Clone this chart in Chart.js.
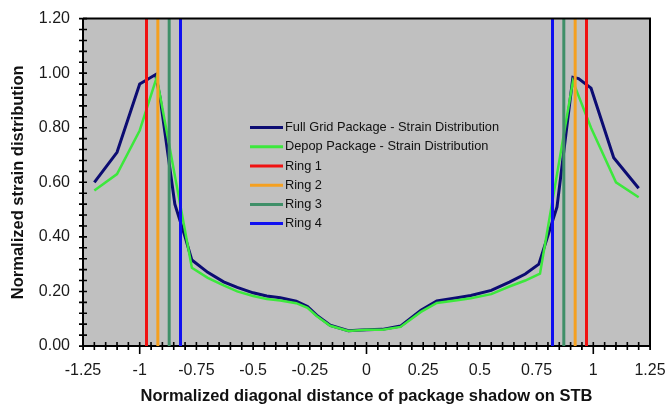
<!DOCTYPE html>
<html>
<head>
<meta charset="utf-8">
<script src="https://cdn.jsdelivr.net/npm/chart.js@4"></script>
<style>
  html, body { margin: 0; padding: 0; background: #fff; }
  #wrap { width: 667px; height: 406px; }
</style>
</head>
<body>
<div id="wrap"><canvas id="strainChart" width="667" height="406"></canvas></div>
<script>
// values
const fullGridX = [-1.2, -1.1, -1.0, -0.97, -0.93, -0.91, -0.845, -0.80, -0.77, -0.70, -0.63, -0.57, -0.50, -0.44, -0.38, -0.31, -0.26, -0.22, -0.16, -0.08, 0.0, 0.07, 0.15, 0.24, 0.31, 0.40, 0.46, 0.55, 0.63, 0.70, 0.76, 0.84, 0.91, 0.935, 0.99, 1.09, 1.2];
const fullGridY = [0.60, 0.71, 0.96, 0.975, 0.995, 0.91, 0.52, 0.40, 0.315, 0.27, 0.235, 0.215, 0.195, 0.183, 0.177, 0.164, 0.145, 0.113, 0.076, 0.056, 0.06, 0.061, 0.073, 0.131, 0.165, 0.177, 0.185, 0.204, 0.234, 0.264, 0.30, 0.51, 0.985, 0.98, 0.945, 0.69, 0.578];

const depopX = [-1.2, -1.1, -1.0, -0.925, -0.77, -0.70, -0.63, -0.57, -0.50, -0.44, -0.38, -0.31, -0.26, -0.22, -0.16, -0.08, 0.0, 0.07, 0.15, 0.24, 0.31, 0.40, 0.46, 0.55, 0.63, 0.70, 0.765, 0.91, 0.99, 1.10, 1.2];
const depopY = [0.57, 0.63, 0.79, 0.985, 0.287, 0.25, 0.222, 0.20, 0.183, 0.172, 0.167, 0.157, 0.14, 0.11, 0.074, 0.055, 0.06, 0.06, 0.07, 0.125, 0.158, 0.168, 0.175, 0.19, 0.218, 0.24, 0.265, 0.97, 0.80, 0.60, 0.545];

const ringLabels = ["Ring 1", "Ring 2", "Ring 3", "Ring 4"];
const ringPositions = [0.97, 0.92, 0.87, 0.82];
const ringColors = ["#f01212", "#f5a020", "#3f8f68", "#1010f0"];

const yMax = 1.2;

function toPoints(xs, ys) {
    return xs.map((x, i) => ({ x: x, y: ys[i] }));
}

function ringPoints(p) {
    return [{ x: -p, y: 0 }, { x: -p, y: yMax }, { x: 0, y: null }, { x: p, y: 0 }, { x: p, y: yMax }];
}

const datasets = [
    { label: "Full Grid Package - Strain Distribution", data: toPoints(fullGridX, fullGridY), borderColor: "#0c0c72", borderWidth: 3, order: 6 },
    { label: "Depop Package - Strain Distribution", data: toPoints(depopX, depopY), borderColor: "#3ce83c", borderWidth: 2.5, order: 5 }
];
ringLabels.forEach((name, i) => {
    datasets.push({ label: name, data: ringPoints(ringPositions[i]), borderColor: ringColors[i], borderWidth: 3, order: 4 - i });
});
datasets.forEach(ds => {
    ds.showLine = true;
    ds.pointRadius = 0;
    ds.pointHoverRadius = 0;
    ds.fill = false;
    ds.tension = 0;
    ds.spanGaps = false;
});

function near(v, step) {
    return Math.abs(v / step - Math.round(v / step)) < 1e-6;
}

// grey plot background
const plotBackground = {
    id: "plotBackground",
    beforeDraw(chart) {
        const { ctx, chartArea: a } = chart;
        ctx.save();
        ctx.fillStyle = "#c0c0c0";
        ctx.fillRect(a.left, a.top, a.right - a.left, a.bottom - a.top);
        ctx.restore();
    }
};

// frame on top/right plus the tick marks crossing the axes
const plotFrame = {
    id: "plotFrame",
    afterDraw(chart) {
        const { ctx, chartArea: a, scales } = chart;
        ctx.save();
        ctx.strokeStyle = "#000";
        ctx.lineWidth = 2;
        ctx.beginPath();
        ctx.moveTo(a.left, a.top);
        ctx.lineTo(a.right, a.top);
        ctx.lineTo(a.right, a.bottom);
        ctx.stroke();

        ctx.lineWidth = 1.6;
        ctx.beginPath();
        scales.y.ticks.forEach(t => {
            const y = scales.y.getPixelForValue(t.value);
            ctx.moveTo(a.left - 4, y);
            ctx.lineTo(a.left + 4, y);
        });
        scales.x.ticks.forEach(t => {
            const x = scales.x.getPixelForValue(t.value);
            ctx.moveTo(x, a.bottom - 4);
            ctx.lineTo(x, a.bottom + (near(t.value, 1) ? 8 : 4));
        });
        ctx.stroke();
        ctx.restore();
    }
};

// legend drawn inside the plot area
const insideLegend = {
    id: "insideLegend",
    afterDraw(chart) {
        const { ctx, chartArea: a } = chart;
        const x0 = a.left + 167;
        const y0 = a.top + 109;
        ctx.save();
        ctx.font = "12.8px 'Liberation Sans', Arial, sans-serif";
        ctx.textBaseline = "middle";
        ctx.textAlign = "left";
        chart.data.datasets.forEach((ds, i) => {
            const y = y0 + i * 19.2;
            ctx.strokeStyle = ds.borderColor;
            ctx.lineWidth = 3;
            ctx.beginPath();
            ctx.moveTo(x0, y);
            ctx.lineTo(x0 + 33, y);
            ctx.stroke();
            ctx.fillStyle = "#111";
            ctx.fillText(ds.label, x0 + 35, y);
        });
        ctx.restore();
    }
};

Chart.defaults.font.family = "'Liberation Sans', Arial, sans-serif";
Chart.defaults.color = "#1a1a1a";

const ctx = document.getElementById("strainChart").getContext("2d");
new Chart(ctx, {
    type: "scatter",
    data: { datasets: datasets },
    plugins: [plotBackground, plotFrame, insideLegend],
    options: {
        responsive: false,
        animation: false,
        events: [],
        layout: { padding: { top: 16, right: 17, left: 0, bottom: 0 } },
        plugins: {
            legend: { display: false },
            tooltip: { enabled: false }
        },
        scales: {
            x: {
                type: "linear",
                min: -1.25,
                max: 1.25,
                afterFit: scale => {
                    scale.height = 60;
                    scale.paddingLeft = 0;
                    scale.paddingRight = 0;
                },
                border: { color: "#000", width: 2 },
                grid: { drawOnChartArea: false, drawTicks: true, tickLength: 4, tickColor: "#000" },
                ticks: {
                    stepSize: 0.05,
                    autoSkip: false,
                    maxRotation: 0,
                    padding: 11,
                    font: { size: 16 },
                    callback: value => near(value, 0.25) ? String(parseFloat(value.toFixed(2))) : ""
                },
                title: {
                    display: true,
                    text: "Normalized diagonal distance of package shadow on STB",
                    font: { size: 16.5, weight: "bold" },
                    color: "#111",
                    padding: { top: 0, bottom: 0 }
                }
            },
            y: {
                type: "linear",
                min: 0,
                max: yMax,
                afterFit: scale => { scale.width = 83; },
                border: { color: "#000", width: 2 },
                grid: { drawOnChartArea: false, drawTicks: true, tickLength: 4, tickColor: "#000" },
                ticks: {
                    stepSize: 0.04,
                    autoSkip: false,
                    padding: 9,
                    font: { size: 16 },
                    callback: value => near(value, 0.2) ? value.toFixed(2) : ""
                },
                title: {
                    display: true,
                    text: "Normalized strain distribution",
                    font: { size: 16.5, weight: "bold" },
                    color: "#111",
                    padding: { top: 8.5, bottom: 0 }
                }
            }
        }
    }
});
</script>
</body>
</html>
